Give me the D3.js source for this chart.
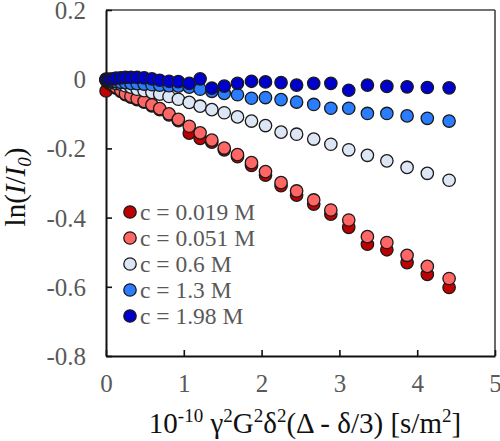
<!DOCTYPE html>
<html>
<head>
<meta charset="utf-8">
<script src="https://cdn.jsdelivr.net/npm/d3@7"></script>
<style>
  html, body { margin: 0; padding: 0; background: #fff; }
  svg { display: block; }
</style>
</head>
<body>
<svg id="chart" width="500" height="441"></svg>
<script>
// x values: 10^-10 γ²G²δ²(Δ-δ/3) [s/m²]
const xValues = [0.001, 0.01, 0.03, 0.05, 0.09, 0.13, 0.19, 0.25, 0.32, 0.40, 0.49, 0.59, 0.69, 0.81, 0.93, 1.07,
                 1.21, 1.36, 1.52, 1.69, 1.87, 2.05, 2.25, 2.45, 2.67, 2.89, 3.12, 3.36, 3.61, 3.87, 4.13, 4.41];

const seriesNames = ["c = 0.019 M", "c = 0.051 M", "c = 0.6 M", "c = 1.3 M", "c = 1.98 M"];
const seriesColors = ["#c00000", "#ff6666", "#dde6f5", "#2a7dff", "#0000cc"];

const y0019 = [-0.034, -0.006, -0.009, -0.013, -0.019, -0.026, -0.035, -0.045, -0.052, -0.059, -0.066, -0.077, -0.088, -0.103, -0.120, -0.156,
               -0.171, -0.182, -0.204, -0.224, -0.249, -0.277, -0.308, -0.335, -0.361, -0.390, -0.428, -0.477, -0.493, -0.530, -0.564, -0.602];
const y0051 = [-0.001, -0.003, -0.006, -0.010, -0.016, -0.023, -0.032, -0.042, -0.049, -0.056, -0.064, -0.074, -0.085, -0.100, -0.116, -0.136,
               -0.155, -0.176, -0.199, -0.218, -0.241, -0.267, -0.299, -0.323, -0.349, -0.378, -0.407, -0.455, -0.472, -0.509, -0.541, -0.576];
const y06   = [0.000, -0.001, -0.003, -0.006, -0.009, -0.012, -0.014, -0.019, -0.023, -0.029, -0.033, -0.038, -0.043, -0.050, -0.058, -0.067,
               -0.078, -0.088, -0.097, -0.109, -0.121, -0.134, -0.153, -0.159, -0.173, -0.188, -0.204, -0.220, -0.236, -0.255, -0.272, -0.292];
const y13   = [-0.001, -0.003, -0.003, -0.004, -0.006, -0.007, -0.009, -0.010, -0.012, -0.013, -0.014, -0.016, -0.017, -0.019, -0.020, -0.023,
               -0.029, -0.035, -0.041, -0.045, -0.055, -0.053, -0.059, -0.066, -0.073, -0.084, -0.084, -0.099, -0.099, -0.106, -0.113, -0.121];
const y198  = [-0.003, -0.001, -0.001, 0.000, 0.001, 0.003, 0.004, 0.005, 0.005, 0.005, 0.004, 0.001, -0.003, -0.006, -0.007, -0.012,
               0.001, -0.026, -0.020, -0.012, -0.006, -0.008, -0.010, -0.017, -0.012, -0.012, -0.032, -0.017, -0.021, -0.022, -0.024, -0.025];

const seriesValues = [y0019, y0051, y06, y13, y198];

const xTicks = [0, 1, 2, 3, 4, 5];
const yTicks = [0.2, 0, -0.2, -0.4, -0.6, -0.8];
const yTickLabels = ["0.2", "0", "-0.2", "-0.4", "-0.6", "-0.8"];

// ---------------------------------------------------------------
const svg = d3.select("#chart");
const mLeft = 106, mRight = 495, mTop = 10, mBottom = 356;
const x = d3.scaleLinear().domain([0, 5]).range([mLeft, mRight]);
const y = d3.scaleLinear().domain([-0.8, 0.2]).range([mBottom, mTop]);
const serif = "'Liberation Serif', 'Times New Roman', serif";

// frame (top & right)
svg.append("line").attr("x1", mLeft).attr("x2", mRight).attr("y1", mTop).attr("y2", mTop)
  .attr("stroke", "#444").attr("stroke-width", 1.6);
svg.append("line").attr("x1", mRight).attr("x2", mRight).attr("y1", mTop).attr("y2", mBottom)
  .attr("stroke", "#444").attr("stroke-width", 1.6);

// axes
const xAxis = d3.axisBottom(x).tickValues(xTicks).tickSizeInner(-6).tickSizeOuter(0).tickPadding(18)
  .tickFormat(d3.format("d"));
const gx = svg.append("g").attr("transform", `translate(0,${mBottom})`).call(xAxis);
const yAxis = d3.axisLeft(y).tickValues(yTicks).tickSizeInner(-6).tickSizeOuter(0).tickPadding(20)
  .tickFormat((d, i) => yTickLabels[i]);
const gy = svg.append("g").attr("transform", `translate(${mLeft},0)`).call(yAxis);

[gx, gy].forEach(g => {
  g.select(".domain").attr("stroke", "#111").attr("stroke-width", 2);
  g.selectAll(".tick line").attr("stroke", "#111").attr("stroke-width", 1.6);
  g.selectAll(".tick text").attr("fill", "#595959").style("font-family", serif).style("font-size", "25px");
});
gx.selectAll(".tick text").attr("dy", "0.71em");
gy.selectAll(".tick text").attr("dy", "0.34em");

// data points
seriesValues.forEach((vals, si) => {
  svg.append("g").selectAll("circle").data(vals).join("circle")
    .attr("cx", (d, i) => x(xValues[i]))
    .attr("cy", d => y(d))
    .attr("r", 6.2)
    .attr("fill", seriesColors[si])
    .attr("stroke", "#1a1a1a")
    .attr("stroke-width", 1.3);
});

// legend
const legend = svg.append("g");
seriesNames.forEach((name, i) => {
  const yy = 212 + i * 26;
  legend.append("circle").attr("cx", 130).attr("cy", yy).attr("r", 6.2)
    .attr("fill", seriesColors[i]).attr("stroke", "#1a1a1a").attr("stroke-width", 1.3);
  legend.append("text").attr("x", 140).attr("y", yy).attr("dy", "0.35em")
    .attr("fill", "#595959").style("font-family", serif).style("font-size", "23.5px").text(name);
});

// x title
const xt = svg.append("text").attr("x", 305).attr("y", 433).attr("text-anchor", "middle")
  .attr("fill", "#111").style("font-family", serif).style("font-size", "29px");
const supParts = [["10", false], ["-10", true], [" γ", false], ["2", true], ["G", false], ["2", true],
                  ["δ", false], ["2", true], ["(Δ - δ/3) [s/m", false], ["2", true], ["]", false]];
let prevSup = false;
supParts.forEach(([t, sup]) => {
  const ts = xt.append("tspan").text(t);
  if (sup) { ts.attr("dy", prevSup ? 0 : -11).style("font-size", "19px"); }
  else { ts.attr("dy", prevSup ? 11 : 0); }
  prevSup = sup;
});

// y title
const yt = svg.append("text").attr("transform", "translate(25,187) rotate(-90)")
  .attr("text-anchor", "middle").attr("fill", "#111").style("font-family", serif).style("font-size", "29px");
yt.append("tspan").text("ln(");
yt.append("tspan").style("font-style", "italic").text("I");
yt.append("tspan").text("/");
yt.append("tspan").style("font-style", "italic").text("I");
yt.append("tspan").style("font-style", "italic").style("font-size", "19px").attr("dy", 6).text("0");
yt.append("tspan").attr("dy", -6).text(")");
</script>
</body>
</html>
